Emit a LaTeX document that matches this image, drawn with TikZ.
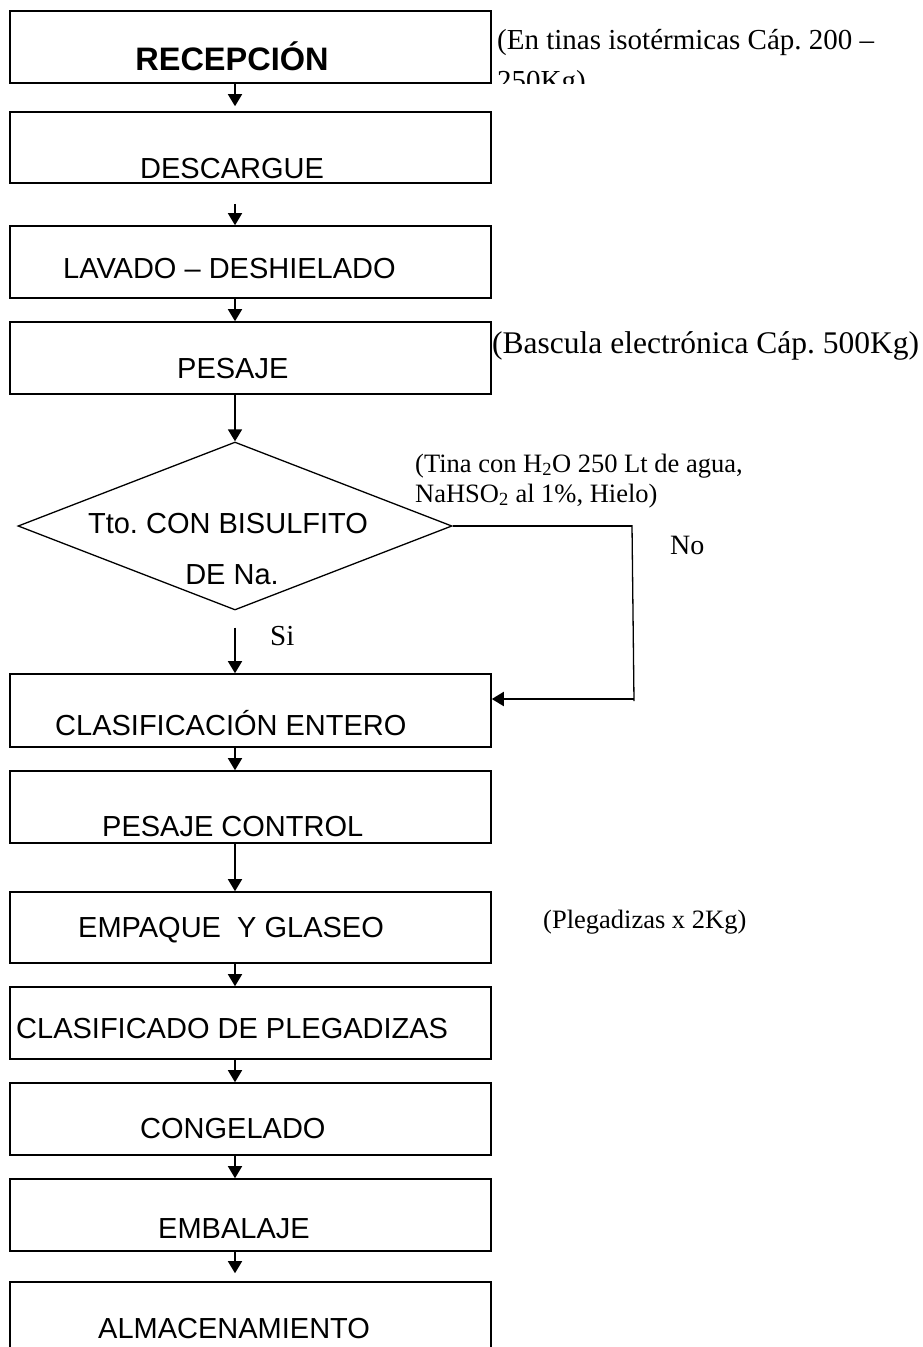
\documentclass[tikz,border=0pt]{standalone}
\usepackage{fontspec}
\setmainfont{Liberation Serif}
\newfontfamily\arial{Liberation Sans}
\frenchspacing
\usetikzlibrary{arrows.meta,shapes.geometric,positioning}

\begin{document}
\begin{tikzpicture}[x=1pt,y=-1pt,
	caja/.style={draw,line width=1.6pt,inner sep=0pt,minimum width=481pt},
	flecha/.style={-{Triangle[width=14pt,length=12pt]},line width=1.6pt},
	paso/.style={anchor=base west,inner sep=0pt,font=\arial\fontsize{29}{34}\selectfont},
	nota/.style={anchor=base west,inner sep=0pt,font=\fontsize{26.5}{31}\selectfont}]
	\clip (0,0) rectangle (923,1347);
	\coordinate (eje) at (235,0);
	% cajas del proceso
	\node[caja,minimum height=72pt,line width=2.2pt] (recep) at (250.5,47) {};
	\node[caja,minimum height=71pt] (desc) at (250.5,147.5) {};
	\node[caja,minimum height=72pt] (lav) at (250.5,262) {};
	\node[caja,minimum height=72pt] (pes) at (250.5,358) {};
	\node[draw,diamond,line width=1.3pt,minimum width=434pt,minimum height=168pt,inner sep=0pt] (bisulf) at (235,526) {};
	\node[caja,minimum height=73pt] (clas) at (250.5,710.5) {};
	\node[caja,minimum height=72pt] (pcont) at (250.5,807) {};
	\node[caja,minimum height=71pt] (empaq) at (250.5,927.5) {};
	\node[caja,minimum height=72pt] (clasif) at (250.5,1023) {};
	\node[caja,minimum height=72pt] (cong) at (250.5,1119) {};
	\node[caja,minimum height=72pt] (embal) at (250.5,1215) {};
	\node[caja,minimum height=98pt] (almac) at (250.5,1331) {};
	% textos de las cajas
	\node[anchor=base,inner sep=0pt,font=\arial\bfseries\fontsize{32.5}{38}\selectfont] (t-recep) at (232,70) {RECEPCIÓN};
	\node[paso] (t-desc) at (140,178) {DESCARGUE};
	\node[paso] (t-lav) at (63,278) {LAVADO – DESHIELADO};
	\node[paso] (t-pes) at (177,378) {PESAJE};
	\node[anchor=base,inner sep=0pt,font=\arial\fontsize{29}{34}\selectfont] (t-bis1) at (228,533) {Tto. CON BISULFITO};
	\node[anchor=base,inner sep=0pt,font=\arial\fontsize{29}{34}\selectfont] (t-bis2) at (232,584) {DE Na.};
	\node[paso] (t-clas) at (55,735) {CLASIFICACIÓN ENTERO};
	\node[paso] (t-pcont) at (102,836) {PESAJE CONTROL};
	\node[paso] (t-empaq) at (78,937) {EMPAQUE\ \ Y GLASEO};
	\node[paso] (t-clasif) at (16,1038) {CLASIFICADO DE PLEGADIZAS};
	\node[paso] (t-cong) at (140,1138) {CONGELADO};
	\node[paso] (t-embal) at (158,1238) {EMBALAJE};
	\node[paso] (t-almac) at (98,1338) {ALMACENAMIENTO};
	% notas
	\node[nota,font=\fontsize{29}{34}\selectfont] (n-tinas) at (497,49) {(En tinas isotérmicas Cáp. 200 –};
	\begin{scope}
		\clip (480,0) rectangle (923,83.5);
		\node[nota,font=\fontsize{29}{34}\selectfont] (n-tinas2) at (497,90) {250Kg)};
	\end{scope}
	\node[nota,font=\fontsize{31.5}{36}\selectfont] (n-bascula) at (492,353) {(Bascula electrónica Cáp. 500Kg)};
	\node[nota] (n-tina) at (415,472) {(Tina con H\textsubscript{2}O 250 Lt de agua,};
	\node[nota] (n-nahso) at (415,502) {NaHSO\textsubscript{2} al 1\%, Hielo)};
	\node[nota,font=\fontsize{28}{32}\selectfont] (n-no) at (670,554) {No};
	\node[nota,font=\fontsize{29}{32}\selectfont] (n-si) at (270,645) {Si};
	\node[nota] (n-pleg) at (543,928) {(Plegadizas x 2Kg)};
	% flechas
	\coordinate (no1) at (632,526);
	\coordinate (no2) at (634,699);
	\draw[flecha,shorten >=5pt] (recep.south -| eje) -- (desc.north -| eje);
	\draw[flecha,shorten <=20pt] (desc.south -| eje) -- (lav.north -| eje);
	\draw[flecha] (lav.south -| eje) -- (pes.north -| eje);
	\draw[flecha] (pes.south -| eje) -- (bisulf.north);
	\draw[flecha,shorten <=17pt] (bisulf.south) -- (clas.north -| eje);
	\draw[line width=1.3pt] (bisulf.east) -- (no1);
	\draw[line width=1.3pt] (no1 |- 0,525) -- (no2 |- 0,701);
	\draw[flecha,line width=2pt] (no2) -- (clas.east |- no2);
	\draw[flecha] (clas.south -| eje) -- (pcont.north -| eje);
	\draw[flecha] (pcont.south -| eje) -- (empaq.north -| eje);
	\draw[flecha] (empaq.south -| eje) -- (clasif.north -| eje);
	\draw[flecha] (clasif.south -| eje) -- (cong.north -| eje);
	\draw[flecha] (cong.south -| eje) -- (embal.north -| eje);
	\draw[flecha,shorten >=8pt] (embal.south -| eje) -- (almac.north -| eje);
\end{tikzpicture}
\end{document}
